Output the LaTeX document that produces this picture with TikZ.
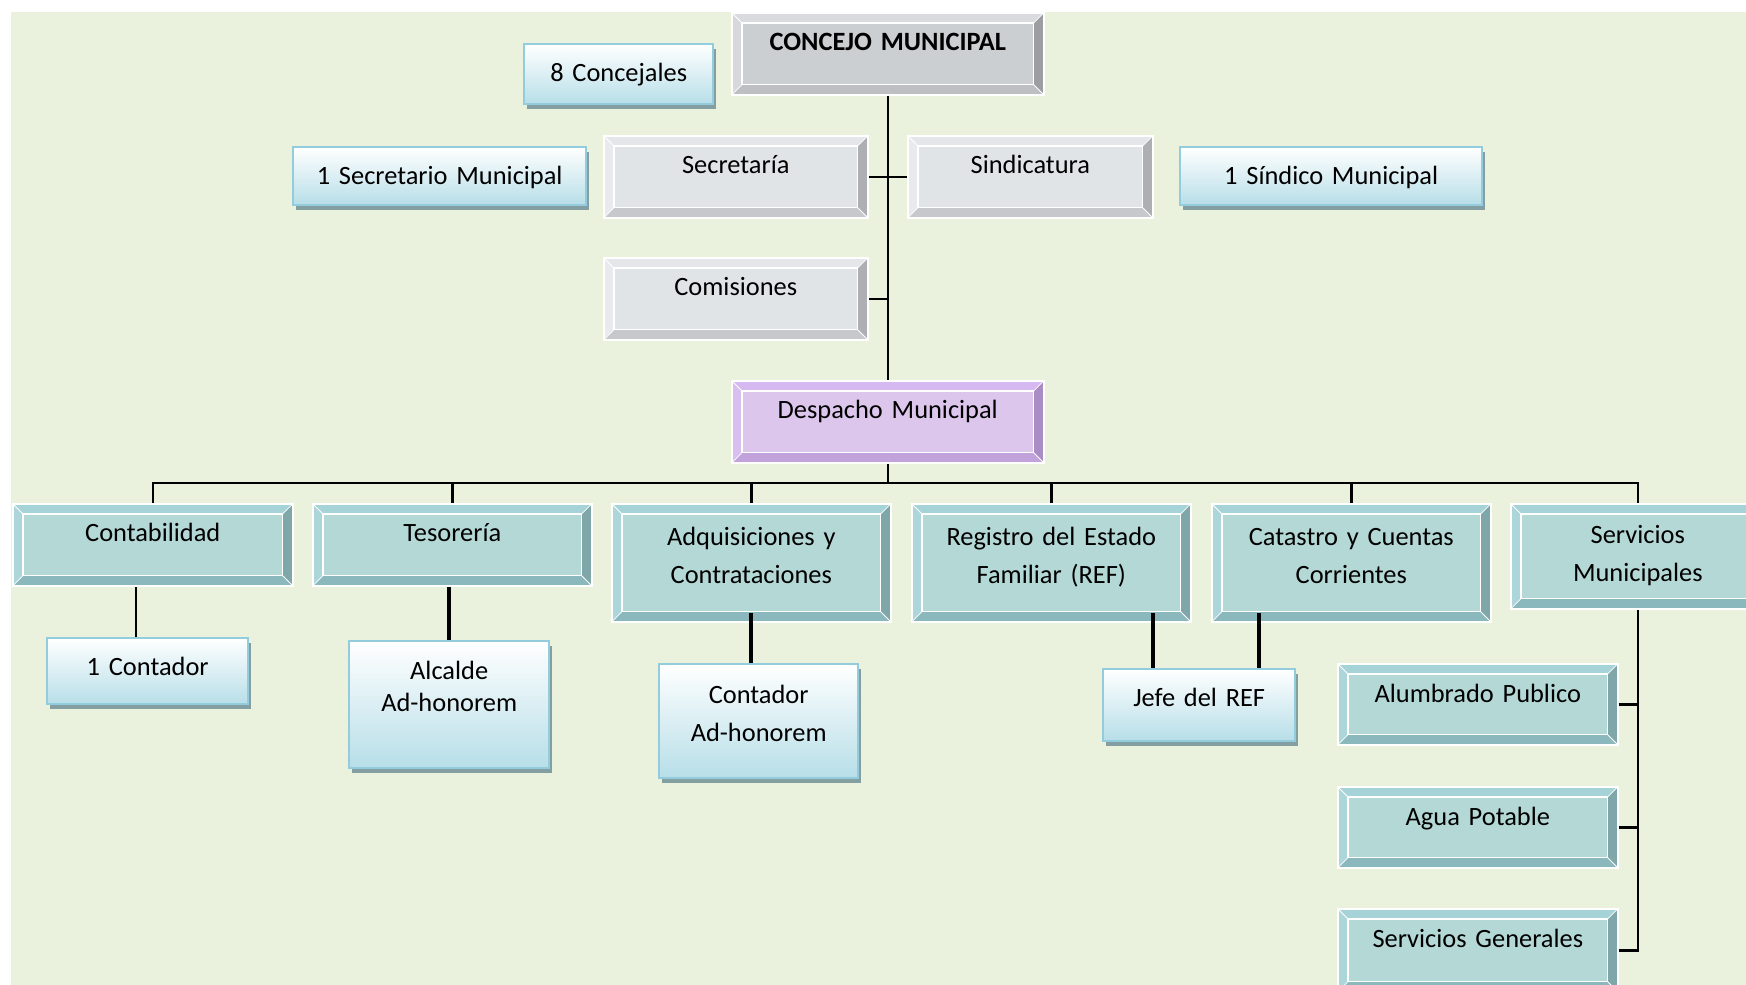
\documentclass[tikz,border=0pt]{standalone}
\usepackage{fontspec}
\setmainfont{Carlito}
\usetikzlibrary{shadows}

\definecolor{bggreen}{HTML}{EAF1DD}
\definecolor{aquaMid}{HTML}{B3D8D6}
\definecolor{aquaTop}{HTML}{A5D3D8}
\definecolor{aquaLeft}{HTML}{ACD6D9}
\definecolor{aquaRight}{HTML}{7FA6A8}
\definecolor{aquaBot}{HTML}{8AB8BC}
\definecolor{mistMid}{HTML}{E1E4E7}
\definecolor{mistTop}{HTML}{E4E6EA}
\definecolor{mistLeft}{HTML}{E8EAED}
\definecolor{mistRight}{HTML}{ADAFB3}
\definecolor{mistBot}{HTML}{C6C8CC}
\definecolor{slateMid}{HTML}{CCCFD1}
\definecolor{slateTop}{HTML}{D9DBDE}
\definecolor{slateLeft}{HTML}{D6D8DB}
\definecolor{slateRight}{HTML}{9C9EA2}
\definecolor{slateBot}{HTML}{BDBFC3}
\definecolor{lilacMid}{HTML}{DCC6EB}
\definecolor{lilacTop}{HTML}{D7B9F1}
\definecolor{lilacLeft}{HTML}{D9BEF0}
\definecolor{lilacRight}{HTML}{A98DC4}
\definecolor{lilacBot}{HTML}{C2A2DA}
\definecolor{gradBot}{HTML}{B7DEE8}
\definecolor{gradLine}{HTML}{93CDDD}
\definecolor{shadowcol}{HTML}{849FA1}

\tikzset{
  dims/.code n args={3}{%
    \pgfmathsetlengthmacro\bxw{#1*0.5pt}%
    \pgfmathsetlengthmacro\bxh{#2*0.5pt}%
    \pgfmathsetlengthmacro\bxd{#2*0.5pt-#3}%
    \edef\bxset{minimum width=\bxw, text width=\bxw, minimum height=\bxh, text height=#3, text depth=\bxd}%
    \expandafter\tikzset\expandafter{\bxset}},
  bevelbox/.style={fill=#1Mid, draw=white, line width=0.8pt,
    path picture={
      \def\bw{5.2pt}
      \path (path picture bounding box.north west) coordinate (pNW)
            (path picture bounding box.north east) coordinate (pNE)
            (path picture bounding box.south west) coordinate (pSW)
            (path picture bounding box.south east) coordinate (pSE)
            ([shift={(\bw,-\bw)}]pNW) coordinate (qNW)
            ([shift={(-\bw,-\bw)}]pNE) coordinate (qNE)
            ([shift={(\bw,\bw)}]pSW) coordinate (qSW)
            ([shift={(-\bw,\bw)}]pSE) coordinate (qSE);
      \fill[#1Top] (pNW) -- (pNE) -- (qNE) -- (qNW) -- cycle;
      \fill[#1Left] (pNW) -- (qNW) -- (qSW) -- (pSW) -- cycle;
      \fill[#1Right] (pNE) -- (pSE) -- (qSE) -- (qNE) -- cycle;
      \fill[#1Bot] (pSW) -- (qSW) -- (qSE) -- (pSE) -- cycle;
      \draw[white, line width=0.8pt] (qNW) rectangle (qSE);
      \draw[white, line width=0.4pt] (pNW) -- (qNW) (pNE) -- (qNE) (pSW) -- (qSW) (pSE) -- (qSE);
    }},
  gradbox/.style={top color=white, bottom color=gradBot, draw=gradLine, line width=1.2pt,
    drop shadow={shadow xshift=1.5pt, shadow yshift=-2.5pt, fill=shadowcol, opacity=1}},
}

\begin{document}
\begin{tikzpicture}[
    x=0.5pt, y=-0.5pt,
    font=\fontsize{13.2}{19}\selectfont,
    every node/.style={inner sep=0pt, anchor=north west, align=center},
    link/.style={line width=1.2pt},
    heavy/.style={line width=2pt}
  ]
  \useasboundingbox (0,0) rectangle (1746,985);
  \fill[bggreen] (11,12) rectangle (1746,985);

  % consejo y dependencias
  \node[bevelbox=slate, dims={312}{82}{19pt}] (concejo) at (731,12) {\textbf{CONCEJO MUNICIPAL}};
  \node[gradbox, dims={189}{60}{18.5pt}] (concejales) at (523,43) {8 Concejales};
  \node[gradbox, dims={293}{58}{18.5pt}] (secmun) at (292,146) {1 Secretario Municipal};
  \node[bevelbox=mist, dims={264}{82}{19pt}] (secretaria) at (603,135) {Secretaría};
  \node[bevelbox=mist, dims={245}{82}{19pt}] (sindicatura) at (907,135) {Sindicatura};
  \node[gradbox, dims={302}{58}{18.5pt}] (sindico) at (1179,146) {1 Síndico Municipal};
  \node[bevelbox=mist, dims={264}{82}{19pt}] (comisiones) at (603,257) {Comisiones};
  \node[bevelbox=lilac, dims={312}{82}{19pt}] (despacho) at (731,380) {Despacho Municipal};

  % unidades
  \node[bevelbox=aqua, dims={280}{82}{19pt}] (conta) at (12,503) {Contabilidad};
  \node[bevelbox=aqua, dims={279}{82}{19pt}] (teso) at (312,503) {Tesorería};
  \node[bevelbox=aqua, dims={279}{118}{21pt}] (adq) at (611,503) {Adquisiciones y\\Contrataciones};
  \node[bevelbox=aqua, dims={279}{118}{21pt}] (registro) at (911,503) {Registro del Estado\\Familiar (REF)};
  \node[bevelbox=aqua, dims={279}{118}{21pt}] (catastro) at (1211,503) {Catastro y Cuentas\\Corrientes};
  \node[bevelbox=aqua, dims={254}{105}{20pt}] (servmun) at (1510,503) {Servicios\\Municipales};

  % personal y servicios
  \node[gradbox, dims={201}{66}{18.5pt}] (contador) at (46,637) {1 Contador};
  \node[gradbox, dims={200}{127}{19pt}] (alcalde) at (348,640) {Alcalde\\[-3pt]Ad-honorem};
  \node[gradbox, dims={199}{114}{19.5pt}] (contadorah) at (658,663) {Contador\\Ad-honorem};
  \node[gradbox, dims={192}{72}{18.5pt}] (jefe) at (1102,668) {Jefe del REF};
  \node[bevelbox=aqua, dims={280}{81}{19.5pt}] (alumbrado) at (1337,663) {Alumbrado Publico};
  \node[bevelbox=aqua, dims={280}{81}{19.5pt}] (agua) at (1337,786) {Agua Potable};
  \node[bevelbox=aqua, dims={280}{83}{19.5pt}] (servgen) at (1337,908) {Servicios Generales};

  % lineas
  \coordinate (bus) at (887,483);
  \draw[link] (concejo.south) -- (despacho.north);
  \draw[link] (secretaria.east) -- (sindicatura.west);
  \draw[link] (comisiones.east) -- (comisiones.east -| concejo.south);
  \draw[link] (despacho.south) -- (despacho.south |- bus);
  \draw[link] (conta.north) -- (bus -| conta.north) -- (bus -| servmun.north) -- (servmun.north);
  \foreach \b in {teso,adq,registro,catastro}
    \draw[link] (bus -| \b.north) -- (\b.north);
  \draw[link] ([xshift=-5.75pt]contador.north) -- ([xshift=-5.75pt]contador.north |- conta.south);
  \draw[heavy] (alcalde.north) -- (alcalde.north |- teso.south);
  \draw[heavy] (contadorah.north -| adq.south) -- ([yshift=5pt]adq.south);
  \draw[heavy] ([xshift=-23pt]jefe.north) -- ([xshift=-23pt,yshift=5pt]jefe.north |- registro.south);
  \draw[heavy] ([xshift=30pt]jefe.north) -- ([xshift=30pt,yshift=5pt]jefe.north |- catastro.south);
  \draw[link] (servmun.south) -- (servmun.south |- servgen.east) -- (servgen.east);
  \draw[link] (alumbrado.east) -- (alumbrado.east -| servmun.south);
  \draw[link] (agua.east) -- (agua.east -| servmun.south);
\end{tikzpicture}
\end{document}
